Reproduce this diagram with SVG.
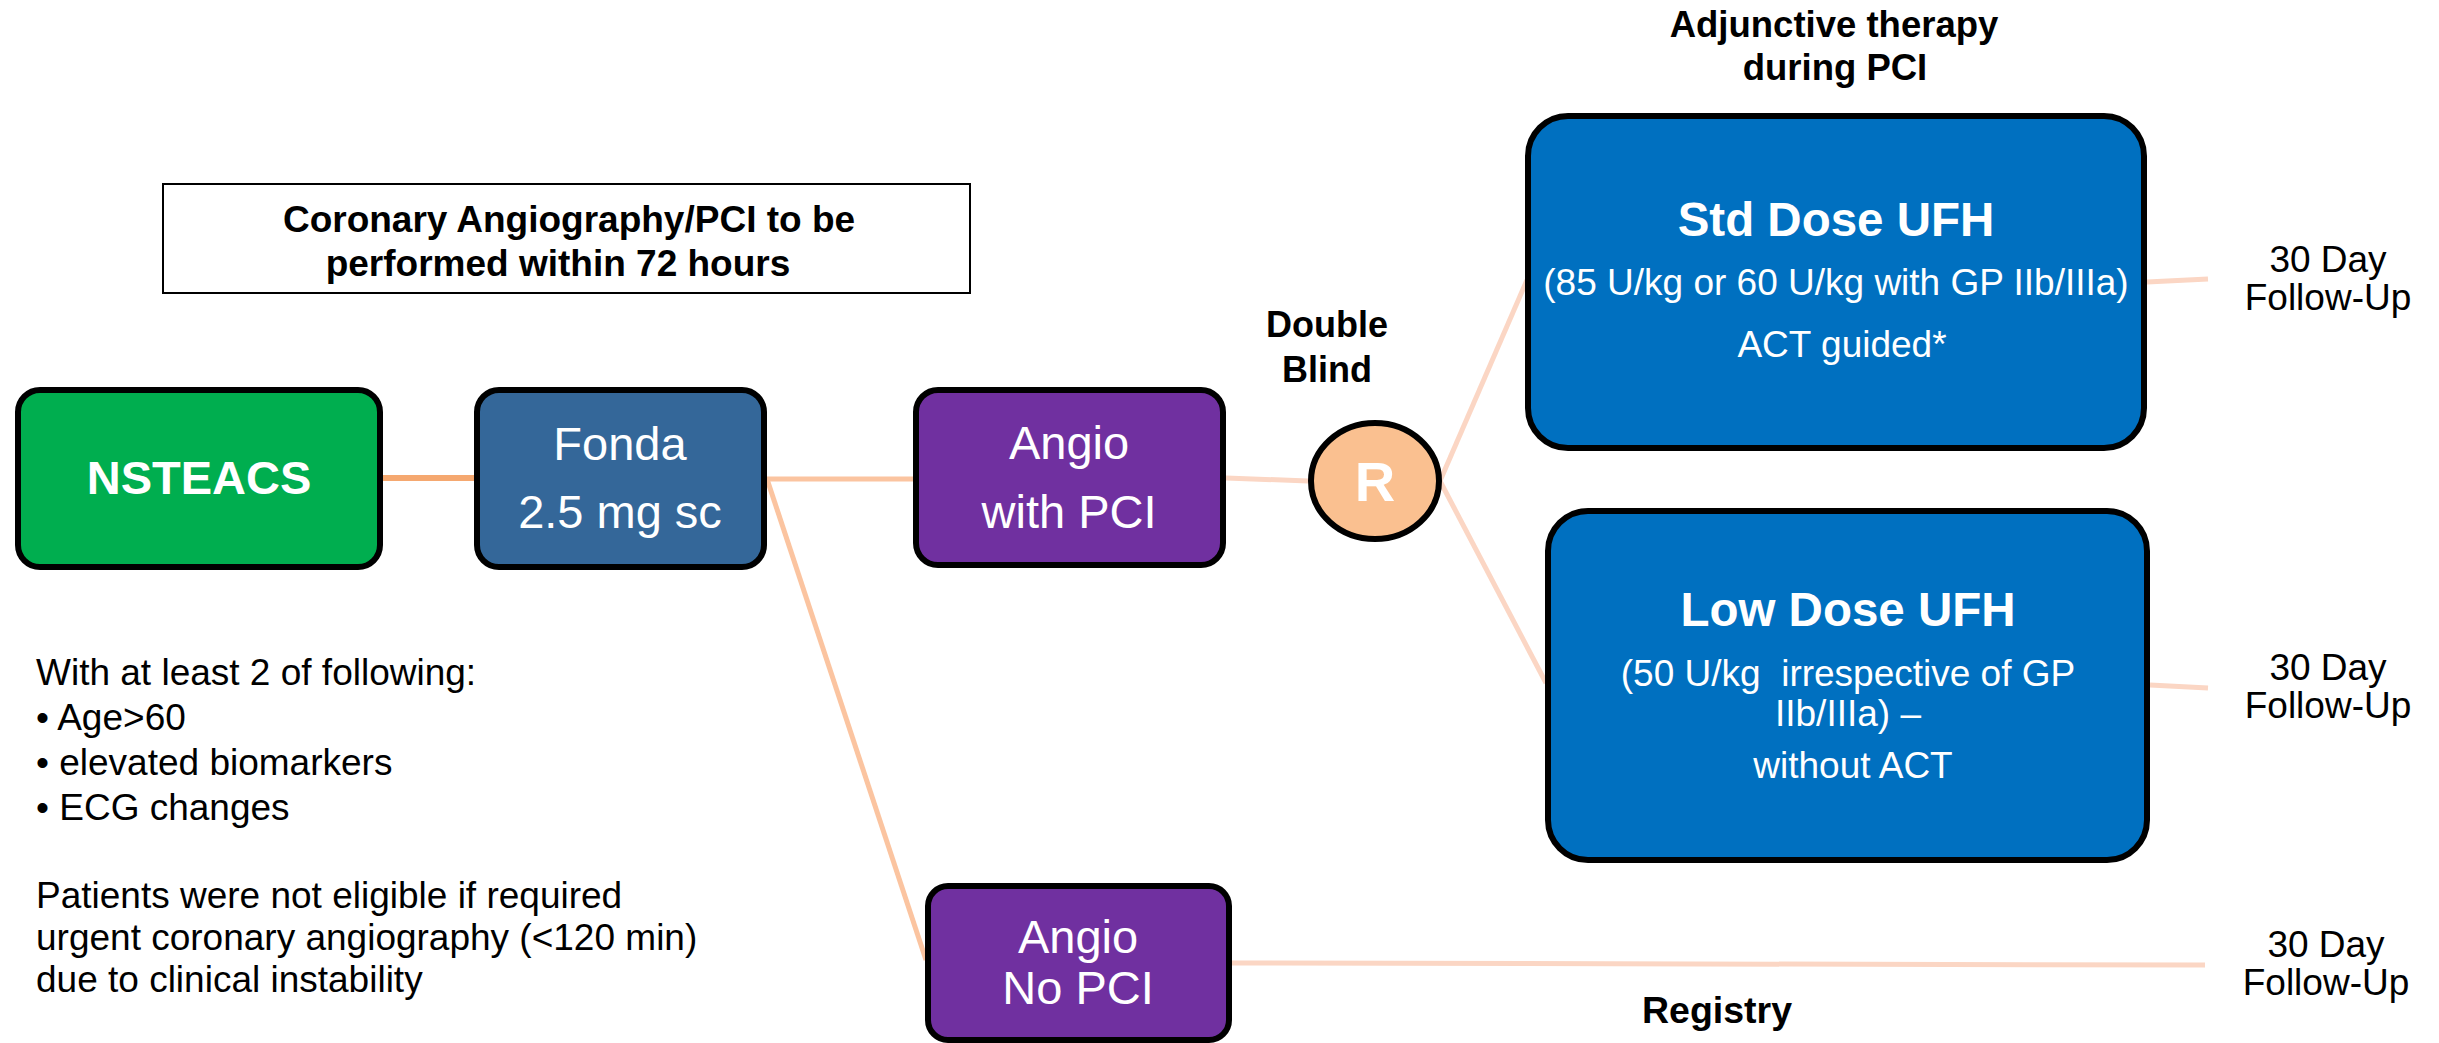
<svg xmlns="http://www.w3.org/2000/svg" width="2439" height="1043" viewBox="0 0 2439 1043">
<style>
text{font-family:"Liberation Sans",Arial,sans-serif;white-space:pre}
.w{fill:#fff}
.k{fill:#000}
.b{font-weight:bold}
.mid{text-anchor:middle}
.box{stroke:#000;stroke-width:6}
.c1{stroke:#F5A870;stroke-width:6;fill:none}
.c2{stroke:#FBC4A0;stroke-width:5;fill:none}
.c3{stroke:#FBD6C4;stroke-width:5;fill:none}
</style>
<rect width="2439" height="1043" fill="#fff"/>
<g id="connectors">
<line class="c1" x1="383" y1="478" x2="474" y2="478"/>
<line class="c2" x1="767" y1="479" x2="913" y2="479"/>
<line class="c2" x1="767" y1="479" x2="926" y2="960" stroke-width="4"/>
<line class="c3" x1="1226" y1="478" x2="1308" y2="481" stroke-width="6"/>
<line class="c3" x1="1440" y1="481" x2="1527" y2="280" stroke-width="4"/>
<line class="c3" x1="1440" y1="481" x2="1546" y2="683" stroke-width="4"/>
<line class="c3" x1="2147" y1="282" x2="2208" y2="279" stroke-width="6"/>
<line class="c3" x1="2150" y1="685" x2="2208" y2="688" stroke-width="6"/>
<line class="c3" x1="1232" y1="963" x2="2205" y2="965" stroke-width="6"/>
</g>
<g id="header">
<rect x="163" y="184" width="807" height="109" fill="#fff" stroke="#000" stroke-width="2"/>
<text class="k b mid" x="569" y="232" font-size="37">Coronary Angiography/PCI to be</text>
<text class="k b mid" x="558" y="276" font-size="37">performed within 72 hours</text>
</g>
<g id="nsteacs">
<rect class="box" x="18" y="390" width="362" height="177" rx="22" fill="#00AE4F"/>
<text class="w b mid" x="199" y="494" font-size="47">NSTEACS</text>
</g>
<g id="fonda">
<rect class="box" x="477" y="390" width="287" height="177" rx="22" fill="#346799"/>
<text class="w mid" x="620" y="460" font-size="47">Fonda</text>
<text class="w mid" x="620" y="528" font-size="47">2.5 mg sc</text>
</g>
<g id="angio-pci">
<rect class="box" x="916" y="390" width="307" height="175" rx="22" fill="#7030A0"/>
<text class="w mid" x="1069" y="459" font-size="47">Angio</text>
<text class="w mid" x="1069" y="528" font-size="47">with PCI</text>
</g>
<g id="angio-nopci">
<rect class="box" x="928" y="886" width="301" height="154" rx="20" fill="#7030A0"/>
<text class="w mid" x="1078" y="953" font-size="47">Angio</text>
<text class="w mid" x="1078" y="1004" font-size="47">No PCI</text>
</g>
<g id="randomize">
<ellipse cx="1375" cy="481" rx="64" ry="58" fill="#FAC090" stroke="#000" stroke-width="6"/>
<text class="w b mid" x="1375" y="501" font-size="56">R</text>
</g>
<g id="double-blind">
<text class="k b mid" x="1327" y="337" font-size="36">Double</text>
<text class="k b mid" x="1327" y="382" font-size="36">Blind</text>
</g>
<g id="adjunctive">
<text class="k b mid" x="1834" y="37" font-size="36.5">Adjunctive therapy</text>
<text class="k b mid" x="1835" y="80" font-size="36.5">during PCI</text>
</g>
<g id="std-dose">
<rect class="box" x="1528" y="116" width="616" height="332" rx="40" fill="#0070C0"/>
<text class="w b mid" x="1836" y="236" font-size="47.5">Std Dose UFH</text>
<text class="w mid" x="1836" y="295" font-size="37">(85 U/kg or 60 U/kg with GP IIb/IIIa)</text>
<text class="w mid" x="1842" y="357" font-size="37">ACT guided*</text>
</g>
<g id="low-dose">
<rect class="box" x="1548" y="511" width="599" height="349" rx="40" fill="#0070C0"/>
<text class="w b mid" x="1848" y="626" font-size="47.5">Low Dose UFH</text>
<text class="w mid" x="1848" y="686" font-size="37">(50 U/kg  irrespective of GP</text>
<text class="w mid" x="1848" y="726" font-size="37">IIb/IIIa) –</text>
<text class="w mid" x="1853" y="778" font-size="37">without ACT</text>
</g>
<g id="fu1">
<text class="k mid" x="2328" y="272" font-size="37">30 Day</text>
<text class="k mid" x="2328" y="310" font-size="37">Follow-Up</text>
</g>
<g id="fu2">
<text class="k mid" x="2328" y="680" font-size="37">30 Day</text>
<text class="k mid" x="2328" y="718" font-size="37">Follow-Up</text>
</g>
<g id="fu3">
<text class="k mid" x="2326" y="957" font-size="37">30 Day</text>
<text class="k mid" x="2326" y="995" font-size="37">Follow-Up</text>
</g>
<g id="registry">
<text class="k b mid" x="1717" y="1023" font-size="37.5">Registry</text>
</g>
<g id="criteria">
<text class="k" x="36" y="685" font-size="37">With at least 2 of following:</text>
<text class="k" x="36" y="730" font-size="37">• Age&gt;60</text>
<text class="k" x="36" y="775" font-size="37">• elevated biomarkers</text>
<text class="k" x="36" y="820" font-size="37">• ECG changes</text>
<text class="k" x="36" y="908" font-size="37">Patients were not eligible if required</text>
<text class="k" x="36" y="950" font-size="37">urgent coronary angiography (&lt;120 min)</text>
<text class="k" x="36" y="992" font-size="37">due to clinical instability</text>
</g>
</svg>
